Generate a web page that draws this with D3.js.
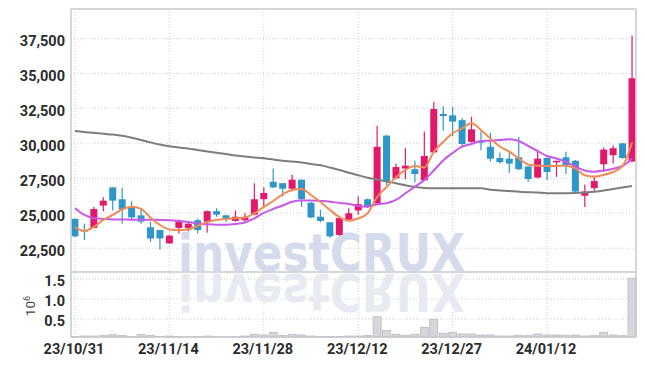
<!DOCTYPE html>
<html>
<head>
<meta charset="utf-8">
<script src="https://cdn.jsdelivr.net/npm/d3@7/dist/d3.min.js"></script>
<style>
  body { margin: 0; background: #fff; }
  svg text { font-family: "Liberation Sans Narrow", "Roboto", sans-serif; }
</style>
</head>
<body>
<div id="chart"></div>
<script>
// trading days (yy/mm/dd)
const dates = [
  "23/10/31", "23/11/01", "23/11/02", "23/11/03", "23/11/06", "23/11/07", "23/11/08", "23/11/09", "23/11/10", "23/11/13",
  "23/11/14", "23/11/15", "23/11/16", "23/11/17", "23/11/20", "23/11/21", "23/11/22", "23/11/23", "23/11/24", "23/11/27",
  "23/11/28", "23/11/29", "23/11/30", "23/12/01", "23/12/04", "23/12/05", "23/12/06", "23/12/07", "23/12/08", "23/12/11",
  "23/12/12", "23/12/13", "23/12/14", "23/12/15", "23/12/18", "23/12/19", "23/12/20", "23/12/21", "23/12/22", "23/12/26",
  "23/12/27", "23/12/28", "24/01/02", "24/01/03", "24/01/04", "24/01/05", "24/01/08", "24/01/09", "24/01/10", "24/01/11",
  "24/01/12", "24/01/15", "24/01/16", "24/01/17", "24/01/18", "24/01/19", "24/01/22", "24/01/23", "24/01/24", "24/01/25"
];

const open = [
  24600, 23800, 23950, 25550, 26850, 26000, 25450, 24850, 24000, 23800,
  22850, 23950, 23950, 24500, 24400, 25150, 24850, 24450, 24500, 24900,
  26000, 27250, 27150, 26750, 27400, 25750, 24750, 24350, 23450, 24550,
  25200, 26000, 25700, 30550, 27500, 28200, 28150, 27350, 29350, 32100,
  32000, 31650, 30100, 30150, 29750, 28950, 28900, 29000, 28350, 27550,
  28950, 28650, 29000, 28750, 26250, 26800, 28500, 29150, 30000, 28700
];
const high = [
  24650, 24250, 25450, 26150, 26850, 26800, 25850, 25300, 24400, 23800,
  23450, 24550, 24350, 24600, 25200, 25350, 24900, 25200, 25000, 27150,
  26850, 28200, 27150, 27750, 27400, 25800, 25250, 24350, 24700, 25350,
  26200, 26050, 31250, 30600, 28550, 29650, 28750, 30850, 32950, 32650,
  32600, 31800, 31900, 30850, 30750, 29350, 29300, 30450, 28350, 29450,
  29000, 28750, 29400, 28800, 27050, 27700, 29700, 29850, 30000, 37700
];
const low = [
  23300, 23100, 23950, 25150, 25200, 24250, 24500, 24250, 22950, 22400,
  22800, 23550, 23700, 23550, 23600, 24750, 24400, 24400, 24400, 24850,
  25350, 26800, 26200, 26550, 25450, 24650, 24350, 23250, 23400, 24500,
  24900, 25400, 25650, 27000, 27450, 27450, 27200, 27300, 29300, 30900,
  30500, 29750, 30050, 29500, 28700, 28550, 27900, 28100, 27250, 27500,
  27350, 27600, 27800, 26500, 25450, 26600, 27950, 28550, 28900, 28650
];
const close = [
  23350, 23700, 25300, 25900, 25900, 25300, 24700, 24400, 23200, 23200,
  23400, 24400, 24250, 23800, 25150, 24900, 24650, 24750, 24700, 26000,
  26450, 26850, 26750, 27400, 26000, 24700, 24450, 23350, 24650, 25000,
  25650, 25450, 29750, 27300, 28300, 28400, 27800, 29100, 32450, 31950,
  31550, 29950, 31000, 30050, 28900, 28650, 28550, 28150, 27450, 28900,
  27950, 28750, 28450, 26550, 26550, 27300, 29550, 29650, 28950, 34650
];

// moving averages
const ma5 = [
  23985, 23735, 24021, 24521, 24878, 25285, 25471, 25307, 24686, 24164,
  23843, 23785, 23857, 24093, 24378, 24521, 24593, 24643, 24700, 24985,
  25450, 25878, 26343, 26664, 26736, 26307, 25807, 25235, 24735, 24471,
  24628, 25000, 26164, 26878, 27571, 28093, 28378, 28271, 29378, 30093,
  30714, 31071, 31428, 30950, 30343, 29771, 29400, 28914, 28486, 28400,
  28378, 28378, 28400, 28200, 27714, 27614, 27735, 27950, 28378, 30057
];
const ma20 = [
  25357, 24878, 24643, 24593, 24557, 24557, 24543, 24543, 24543, 24521,
  24500, 24450, 24378, 24271, 24214, 24185, 24185, 24235, 24343, 24628,
  25021, 25307, 25557, 25828, 25914, 25914, 25878, 25828, 25735, 25664,
  25521, 25471, 25643, 25714, 25950, 26428, 26900, 27378, 28057, 28771,
  29307, 29757, 29950, 30164, 30186, 30236, 30286, 30164, 29807, 29450,
  29093, 28914, 28664, 28357, 28057, 27971, 28057, 28185, 28378, 28900
];
const ma60 = [
  30878, 30807, 30750, 30678, 30621, 30535, 30393, 30236, 30064, 29907,
  29786, 29700, 29628, 29521, 29414, 29328, 29235, 29128, 29057, 28993,
  28928, 28843, 28750, 28700, 28628, 28521, 28435, 28271, 28093, 27900,
  27714, 27543, 27414, 27271, 27143, 27000, 26878, 26807, 26785, 26785,
  26785, 26785, 26785, 26785, 26678, 26628, 26593, 26543, 26507, 26478,
  26435, 26428, 26435, 26450, 26485, 26535, 26628, 26735, 26843, 26950
];

const volume = [
  62000, 75000, 75000, 83000, 108000, 88000, 60000, 108000, 88000, 60000,
  75000, 60000, 55000, 60000, 75000, 60000, 55000, 60000, 75000, 118000,
  100000, 168000, 88000, 118000, 100000, 75000, 60000, 65000, 60000, 75000,
  75000, 88000, 558000, 213000, 118000, 93000, 118000, 293000, 493000, 143000,
  168000, 125000, 125000, 100000, 100000, 75000, 75000, 93000, 83000, 125000,
  100000, 100000, 93000, 100000, 75000, 83000, 168000, 100000, 83000, 1518000
];

const priceTicks = [22500, 25000, 27500, 30000, 32500, 35000, 37500];
const volTicks = [500000, 1000000, 1500000];
const dateTicks = ["23/10/31", "23/11/14", "23/11/28", "23/12/12", "23/12/27", "24/01/12"];

// layout
const width = 645, height = 366;
const plotLeft = 71, plotRight = 636, plotTop = 9, priceBottom = 272, volBottom = 337;

const upColor = "#e2196b", downColor = "#2f96c9";
const gridColor = "#c8cddd";

const svg = d3.select("#chart").append("svg")
  .attr("width", width).attr("height", height);

const x = d3.scalePoint().domain(dates).range([plotLeft, plotRight]).padding(0.42);
const yPrice = d3.scaleLinear().domain([20800, 39600]).range([priceBottom, plotTop]);
const yVol = d3.scaleLinear().domain([0, 1675000]).range([339, priceBottom]);

// grid
const grid = svg.append("g").attr("stroke", gridColor).attr("stroke-dasharray", "1,2");
grid.selectAll("line.h").data(priceTicks).enter().append("line")
  .attr("x1", plotLeft).attr("x2", plotRight)
  .attr("y1", d => yPrice(d)).attr("y2", d => yPrice(d));
grid.selectAll("line.v").data(volTicks).enter().append("line")
  .attr("x1", plotLeft).attr("x2", plotRight)
  .attr("y1", d => yVol(d)).attr("y2", d => yVol(d));
grid.selectAll("line.d").data(dateTicks).enter().append("line")
  .attr("x1", d => x(d)).attr("x2", d => x(d))
  .attr("y1", plotTop).attr("y2", volBottom);

// watermark + reflection
const wm = svg.append("g");
wm.append("text")
  .attr("x", 178).attr("y", 271)
  .attr("font-size", 52)
  .attr("textLength", 287).attr("lengthAdjust", "spacingAndGlyphs")
  .attr("fill", "#d5dbea")
  .style("font-family", "'DejaVu Sans', sans-serif").style("font-weight", "bold")
  .text("investCRUX");
wm.append("text")
  .attr("x", 178).attr("y", 271)
  .attr("transform", `translate(0, ${2 * priceBottom + 1}) scale(1,-1)`)
  .attr("font-size", 52)
  .attr("textLength", 287).attr("lengthAdjust", "spacingAndGlyphs")
  .attr("fill", "#e8eaf1")
  .style("font-family", "'DejaVu Sans', sans-serif").style("font-weight", "bold")
  .text("investCRUX");

// volume bars
const bw = 8;
svg.append("g").selectAll("rect").data(volume).enter().append("rect")
  .attr("x", (d, i) => x(dates[i]) - bw / 2)
  .attr("y", d => yVol(d))
  .attr("width", bw)
  .attr("height", d => Math.max(0, volBottom - yVol(d)))
  .attr("fill", "#d6d6db")
  .attr("stroke", "#b9b9c0")
  .attr("stroke-width", 0.8);

// candles
const cw = 7;
const candles = svg.append("g").selectAll("g").data(dates).enter().append("g");
candles.append("line")
  .attr("x1", d => x(d)).attr("x2", d => x(d))
  .attr("y1", (d, i) => yPrice(high[i]))
  .attr("y2", (d, i) => yPrice(low[i]))
  .attr("stroke", (d, i) => close[i] >= open[i] ? upColor : downColor)
  .attr("stroke-width", 1.2);
candles.append("rect")
  .attr("x", d => x(d) - cw / 2)
  .attr("y", (d, i) => yPrice(Math.max(open[i], close[i])))
  .attr("width", cw)
  .attr("height", (d, i) => Math.max(1.5, Math.abs(yPrice(open[i]) - yPrice(close[i]))))
  .attr("fill", (d, i) => close[i] >= open[i] ? upColor : downColor);

// moving average lines
const line = d3.line()
  .x((d, i) => x(dates[i]))
  .y(d => yPrice(d))
  .curve(d3.curveMonotoneX);
svg.append("path").datum(ma60).attr("d", line)
  .attr("fill", "none").attr("stroke", "#7d7d7d").attr("stroke-width", 2);
svg.append("path").datum(ma20).attr("d", line)
  .attr("fill", "none").attr("stroke", "#c957e9").attr("stroke-width", 2);
svg.append("path").datum(ma5).attr("d", line)
  .attr("fill", "none").attr("stroke", "#f08b55").attr("stroke-width", 2);

// frame
const frame = svg.append("g").attr("stroke", "#c9c9cc").attr("stroke-width", 1.5);
frame.append("line").attr("x1", plotLeft).attr("x2", plotRight).attr("y1", plotTop).attr("y2", plotTop);
frame.append("line").attr("x1", plotLeft).attr("x2", plotRight).attr("y1", priceBottom).attr("y2", priceBottom);
frame.append("line").attr("x1", plotLeft).attr("x2", plotRight).attr("y1", volBottom).attr("y2", volBottom);
frame.append("line").attr("x1", plotLeft).attr("x2", plotLeft).attr("y1", plotTop).attr("y2", volBottom);
frame.append("line").attr("x1", plotRight).attr("x2", plotRight).attr("y1", plotTop).attr("y2", volBottom);

// axis labels
const fmtPrice = d3.format(",");
const labels = svg.append("g")
  .attr("font-size", 14.5).attr("font-weight", "bold").attr("fill", "#2b2b2b");
labels.selectAll("text.p").data(priceTicks).enter().append("text")
  .attr("x", 65).attr("y", d => yPrice(d) + 8)
  .attr("text-anchor", "end")
  .text(d => fmtPrice(d));
labels.selectAll("text.v").data(volTicks).enter().append("text")
  .attr("x", 65).attr("y", d => yVol(d) + 6.5)
  .attr("text-anchor", "end")
  .text(d => d3.format(".1f")(d / 1e6));
labels.selectAll("text.d").data(dateTicks).enter().append("text")
  .attr("x", d => x(d) - 1).attr("y", 354)
  .attr("text-anchor", "middle")
  .attr("font-size", 14.5)
  .text(d => d);

// 10^6 unit label
const unit = svg.append("text")
  .attr("transform", "translate(35, 306) rotate(-90)")
  .attr("text-anchor", "middle")
  .attr("font-size", 13.5)
  .attr("fill", "#444");
unit.append("tspan").text("10");
unit.append("tspan").attr("dy", -5).attr("font-size", 9).text("6");
</script>
</body>
</html>
